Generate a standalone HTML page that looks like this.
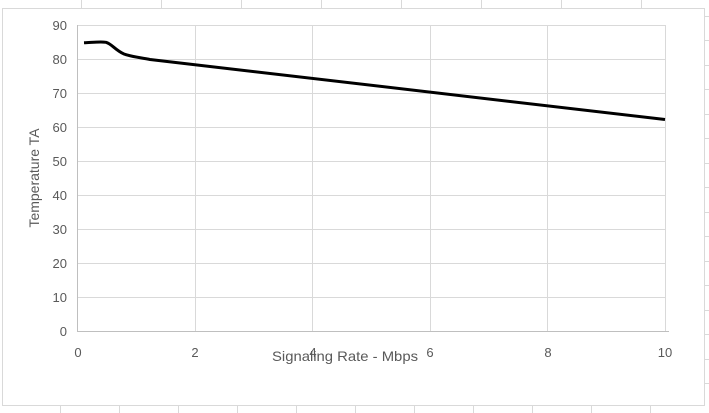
<!DOCTYPE html>
<html><head><style>
body{margin:0;background:#fff;}
svg{display:block;font-family:"Liberation Sans",sans-serif;}
</style></head><body>
<svg width="709" height="413" viewBox="0 0 709 413">
<g stroke="#d9d9d9" stroke-width="1">
<line x1="81.5" y1="0" x2="81.5" y2="8"/><line x1="161.5" y1="0" x2="161.5" y2="8"/><line x1="241.5" y1="0" x2="241.5" y2="8"/><line x1="321.5" y1="0" x2="321.5" y2="8"/><line x1="401.5" y1="0" x2="401.5" y2="8"/><line x1="481.5" y1="0" x2="481.5" y2="8"/><line x1="561.5" y1="0" x2="561.5" y2="8"/><line x1="641.5" y1="0" x2="641.5" y2="8"/>
<line x1="60.5" y1="406" x2="60.5" y2="413"/><line x1="119.5" y1="406" x2="119.5" y2="413"/><line x1="178.5" y1="406" x2="178.5" y2="413"/><line x1="237.5" y1="406" x2="237.5" y2="413"/><line x1="296.5" y1="406" x2="296.5" y2="413"/><line x1="355.5" y1="406" x2="355.5" y2="413"/><line x1="414.5" y1="406" x2="414.5" y2="413"/><line x1="473.5" y1="406" x2="473.5" y2="413"/><line x1="532.5" y1="406" x2="532.5" y2="413"/><line x1="591.5" y1="406" x2="591.5" y2="413"/><line x1="650.5" y1="406" x2="650.5" y2="413"/>
<line x1="705" y1="334.5" x2="709" y2="334.5"/><line x1="705" y1="359.5" x2="709" y2="359.5"/><line x1="705" y1="383.5" x2="709" y2="383.5"/><line x1="705" y1="310.5" x2="709" y2="310.5"/><line x1="705" y1="285.5" x2="709" y2="285.5"/><line x1="705" y1="261.5" x2="709" y2="261.5"/><line x1="705" y1="236.5" x2="709" y2="236.5"/><line x1="705" y1="212.5" x2="709" y2="212.5"/><line x1="705" y1="187.5" x2="709" y2="187.5"/><line x1="705" y1="163.5" x2="709" y2="163.5"/><line x1="705" y1="138.5" x2="709" y2="138.5"/><line x1="705" y1="114.5" x2="709" y2="114.5"/><line x1="705" y1="89.5" x2="709" y2="89.5"/><line x1="705" y1="65.5" x2="709" y2="65.5"/><line x1="705" y1="40.5" x2="709" y2="40.5"/><line x1="705" y1="16.5" x2="709" y2="16.5"/>
</g>
<rect x="2.5" y="8.5" width="702" height="397" fill="#fff" stroke="#d9d9d9"/>
<g stroke="#d9d9d9" stroke-width="1">
<line x1="78" y1="25.5" x2="665" y2="25.5"/><line x1="78" y1="59.5" x2="665" y2="59.5"/><line x1="78" y1="93.5" x2="665" y2="93.5"/><line x1="78" y1="127.5" x2="665" y2="127.5"/><line x1="78" y1="161.5" x2="665" y2="161.5"/><line x1="78" y1="195.5" x2="665" y2="195.5"/><line x1="78" y1="229.5" x2="665" y2="229.5"/><line x1="78" y1="263.5" x2="665" y2="263.5"/><line x1="78" y1="297.5" x2="665" y2="297.5"/>
<line x1="195.5" y1="25" x2="195.5" y2="331"/><line x1="312.5" y1="25" x2="312.5" y2="331"/><line x1="430.5" y1="25" x2="430.5" y2="331"/><line x1="547.5" y1="25" x2="547.5" y2="331"/><line x1="665.5" y1="25" x2="665.5" y2="331"/>
</g>
<g stroke="#bfbfbf"><line x1="77.5" y1="25" x2="77.5" y2="331"/><line x1="77" y1="331.5" x2="669" y2="331.5"/></g>
<g fill="#595959" font-size="13" text-anchor="end">
<text x="67" y="30">90</text><text x="67" y="64">80</text><text x="67" y="98">70</text><text x="67" y="132">60</text><text x="67" y="166">50</text><text x="67" y="200">40</text><text x="67" y="234">30</text><text x="67" y="268">20</text><text x="67" y="302">10</text><text x="67" y="336">0</text>
</g>
<g fill="#595959" font-size="13" text-anchor="middle">
<text x="78" y="357">0</text><text x="195" y="357">2</text><text x="313" y="357">4</text><text x="430" y="357">6</text><text x="548" y="357">8</text><text x="665" y="357">10</text>
</g>
<text x="345" y="361" fill="#595959" font-size="14" text-anchor="middle" textLength="146" lengthAdjust="spacingAndGlyphs">Signaling Rate - Mbps</text>
<text transform="translate(39,178) rotate(-90)" fill="#595959" font-size="14" text-anchor="middle">Temperature TA</text>
<path d="M84,42.8 C92,42.5 100,41.5 106,42.3 C112,44 115,50 124,54 C132,57 140,57.5 150,59.5 L665,119.5" fill="none" stroke="#000" stroke-width="3" stroke-linejoin="round"/>
</svg>
</body></html>
